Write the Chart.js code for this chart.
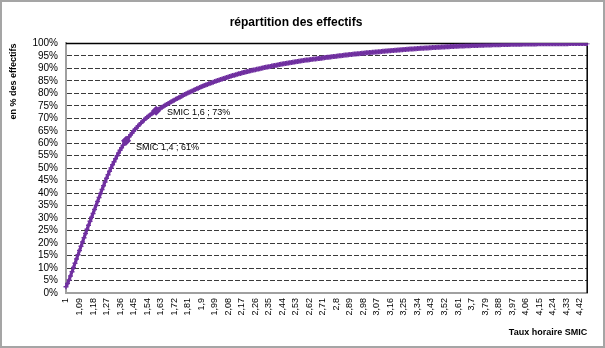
<!DOCTYPE html>
<html>
<head>
<meta charset="utf-8">
<script src="https://cdn.jsdelivr.net/npm/chart.js@4/dist/chart.umd.min.js"></script>
<style>
  html, body { margin: 0; padding: 0; background: #fff; }
  #frame { width: 605px; height: 348px; box-sizing: border-box; border: 2px solid #a5a5a5; }
  #chart { display: block; }
</style>
</head>
<body>
<div id="frame"><canvas id="chart" width="601" height="344"></canvas></div>
<script>
// Hourly rate expressed in multiples of the SMIC, one category every 0.01
const RATE_START = 100;   // in hundredths
const RATE_COUNT = 348;
const rates = [];
for (let i = 0; i < RATE_COUNT; i++) rates.push((RATE_START + i) / 100);

// Cumulative share of the workforce (%) at each rate
const cumulativeShare = [
  2.5, 3.8, 5.2, 6.8, 8.5, 10.2, 11.9, 13.6, 15.3, 17.0,
  18.7, 20.4, 22.1, 23.8, 25.5, 27.1, 28.7, 30.3, 31.9, 33.5,
  35.1, 36.7, 38.3, 39.9, 41.5, 43.0, 44.5, 46.0, 47.4, 48.8,
  50.1, 51.4, 52.6, 53.8, 55.0, 56.1, 57.2, 58.2, 59.2, 60.1,
  61.0, 61.8, 62.6, 63.4, 64.1, 64.9, 65.6, 66.2, 66.9, 67.5,
  68.2, 68.7, 69.3, 69.9, 70.4, 70.9, 71.3, 71.8, 72.2, 72.6,
  73.0, 73.4, 73.7, 74.1, 74.4, 74.8, 75.2, 75.5, 75.9, 76.2,
  76.6, 76.9, 77.2, 77.6, 77.9, 78.2, 78.5, 78.8, 79.2, 79.5,
  79.8, 80.1, 80.4, 80.6, 80.9, 81.2, 81.5, 81.8, 82.0, 82.3,
  82.6, 82.8, 83.1, 83.3, 83.5, 83.8, 84.0, 84.2, 84.4, 84.7,
  84.9, 85.1, 85.3, 85.5, 85.7, 85.9, 86.1, 86.3, 86.5, 86.7,
  86.9, 87.1, 87.2, 87.4, 87.6, 87.8, 87.9, 88.1, 88.3, 88.4,
  88.6, 88.7, 88.9, 89.0, 89.2, 89.3, 89.4, 89.6, 89.7, 89.8,
  90.0, 90.1, 90.3, 90.4, 90.5, 90.6, 90.7, 90.9, 91.0, 91.1,
  91.2, 91.3, 91.5, 91.6, 91.7, 91.8, 91.9, 92.0, 92.1, 92.2,
  92.3, 92.4, 92.5, 92.6, 92.7, 92.8, 92.9, 93.0, 93.1, 93.2,
  93.3, 93.3, 93.4, 93.5, 93.6, 93.7, 93.8, 93.9, 94.0, 94.0,
  94.1, 94.2, 94.3, 94.4, 94.5, 94.5, 94.6, 94.7, 94.8, 94.8,
  94.9, 95.0, 95.1, 95.1, 95.2, 95.3, 95.4, 95.4, 95.5, 95.6,
  95.6, 95.7, 95.8, 95.8, 95.9, 95.9, 96.0, 96.1, 96.1, 96.2,
  96.3, 96.3, 96.4, 96.4, 96.5, 96.5, 96.6, 96.6, 96.7, 96.7,
  96.8, 96.9, 96.9, 97.0, 97.0, 97.1, 97.1, 97.2, 97.2, 97.3,
  97.3, 97.4, 97.4, 97.5, 97.5, 97.6, 97.6, 97.7, 97.7, 97.8,
  97.8, 97.8, 97.9, 97.9, 98.0, 98.0, 98.1, 98.1, 98.1, 98.2,
  98.2, 98.2, 98.3, 98.3, 98.4, 98.4, 98.4, 98.5, 98.5, 98.5,
  98.6, 98.6, 98.6, 98.7, 98.7, 98.7, 98.8, 98.8, 98.8, 98.9,
  98.9, 98.9, 99.0, 99.0, 99.0, 99.0, 99.1, 99.1, 99.1, 99.1,
  99.2, 99.2, 99.2, 99.2, 99.2, 99.3, 99.3, 99.3, 99.3, 99.4,
  99.4, 99.4, 99.4, 99.4, 99.5, 99.5, 99.5, 99.5, 99.5, 99.5,
  99.6, 99.6, 99.6, 99.6, 99.6, 99.6, 99.7, 99.7, 99.7, 99.7,
  99.7, 99.7, 99.7, 99.7, 99.8, 99.8, 99.8, 99.8, 99.8, 99.8,
  99.8, 99.8, 99.8, 99.8, 99.9, 99.9, 99.9, 99.9, 99.9, 99.9,
  99.9, 99.9, 99.9, 99.9, 99.9, 99.9, 99.9, 99.9, 99.9, 99.9,
  99.9, 99.9, 99.9, 99.9, 99.9, 100, 100, 100, 100, 100,
  100, 100, 100, 100, 100, 100, 100, 100
];

// y ticks every 5 %
const percentTicks = [0, 5, 10, 15, 20, 25, 30, 35, 40, 45, 50, 55, 60, 65, 70, 75, 80, 85, 90, 95, 100];
// show one rate label out of nine
const LABEL_EVERY = 9;
// points called out on the curve (rates 1,4 and 1,6)
const calloutRates = [1.4, 1.6];

const PURPLE = '#7030a0';
const FONT = 'Liberation Sans, Arial, sans-serif';

const frenchNumber = v => String(Math.round(v * 100) / 100).replace('.', ',');
const calloutIndexes = calloutRates.map(r => rates.findIndex(x => Math.abs(x - r) < 1e-9));

// top and right edges of the plot area, drawn under the curve
const plotFrame = {
  id: 'plotFrame',
  beforeDatasetsDraw(chart) {
    const { ctx, chartArea: a } = chart;
    ctx.save();
    ctx.strokeStyle = '#000';
    ctx.lineWidth = 1.5;
    ctx.beginPath();
    ctx.moveTo(a.left, a.top);
    ctx.lineTo(a.right, a.top);
    ctx.lineTo(a.right, a.bottom);
    ctx.stroke();
    ctx.restore();
  }
};

// "SMIC x ; y%" text next to the called-out points
const calloutLabels = {
  id: 'calloutLabels',
  afterDatasetsDraw(chart) {
    const { ctx } = chart;
    const meta = chart.getDatasetMeta(0);
    const shifts = [{ dx: 10, dy: 7 }, { dx: 11, dy: 2 }];
    ctx.save();
    ctx.font = '9px ' + FONT;
    ctx.fillStyle = '#000';
    ctx.textBaseline = 'middle';
    calloutIndexes.forEach((idx, k) => {
      const pt = meta.data[idx];
      const text = 'SMIC ' + frenchNumber(rates[idx]) + ' ; ' + Math.round(cumulativeShare[idx]) + '%';
      ctx.fillText(text, pt.x + shifts[k].dx, pt.y + shifts[k].dy);
    });
    ctx.restore();
  }
};

new Chart(document.getElementById('chart'), {
  type: 'line',
  data: {
    labels: rates.map(frenchNumber),
    datasets: [{
      data: cumulativeShare,
      borderColor: PURPLE,
      backgroundColor: PURPLE,
      borderWidth: 3,
      tension: 0,
      pointStyle: c => calloutIndexes.includes(c.dataIndex) ? 'rectRot' : 'cross',
      pointRadius: c => calloutIndexes.includes(c.dataIndex) ? 4 : 2.5,
      pointBorderWidth: 1.5,
      pointBorderColor: PURPLE,
      pointBackgroundColor: PURPLE
    }]
  },
  options: {
    responsive: false,
    animation: false,
    layout: { padding: { left: 0, right: 13, top: 0, bottom: 0 } },
    plugins: {
      legend: { display: false },
      tooltip: { enabled: false },
      title: {
        display: true,
        text: 'répartition des effectifs',
        color: '#000',
        font: { family: FONT, size: 12, weight: 'bold' },
        padding: { top: 13.5, bottom: 13.5 }
      }
    },
    scales: {
      x: {
        grid: { display: false, drawTicks: false },
        border: { display: true, color: '#a0a0a0', width: 2 },
        afterFit: s => { s.height = 53; },
        ticks: {
          autoSkip: false,
          minRotation: 90,
          maxRotation: 90,
          padding: 5,
          color: '#000',
          font: { family: FONT, size: 9 },
          callback: (v, i) => i % LABEL_EVERY === 0 ? frenchNumber(rates[i]) : ''
        },
        title: {
          display: true,
          text: 'Taux horaire SMIC',
          align: 'end',
          color: '#000',
          font: { family: FONT, size: 9, weight: 'bold' },
          padding: { top: 0, bottom: 8 }
        }
      },
      y: {
        min: 0,
        max: 100,
        afterFit: s => { s.width = 64; },
        afterBuildTicks: s => { s.ticks = percentTicks.map(v => ({ value: v })); },
        grid: {
          drawTicks: false,
          color: c => (c.tick && (c.tick.value === 0 || c.tick.value === 100)) ? 'transparent' : '#3a3a3a',
          lineWidth: 1
        },
        border: { display: true, color: '#a0a0a0', width: 2, dash: [5, 2] },
        ticks: {
          autoSkip: false,
          padding: 8,
          color: '#000',
          font: { family: FONT, size: 10 },
          callback: v => v + '%'
        },
        title: {
          display: true,
          text: 'en % des effectifs',
          align: 'end',
          color: '#000',
          font: { family: FONT, size: 9, weight: 'bold' },
          padding: { top: 6, bottom: 0 }
        }
      }
    }
  },
  plugins: [plotFrame, calloutLabels]
});
</script>
</body>
</html>
